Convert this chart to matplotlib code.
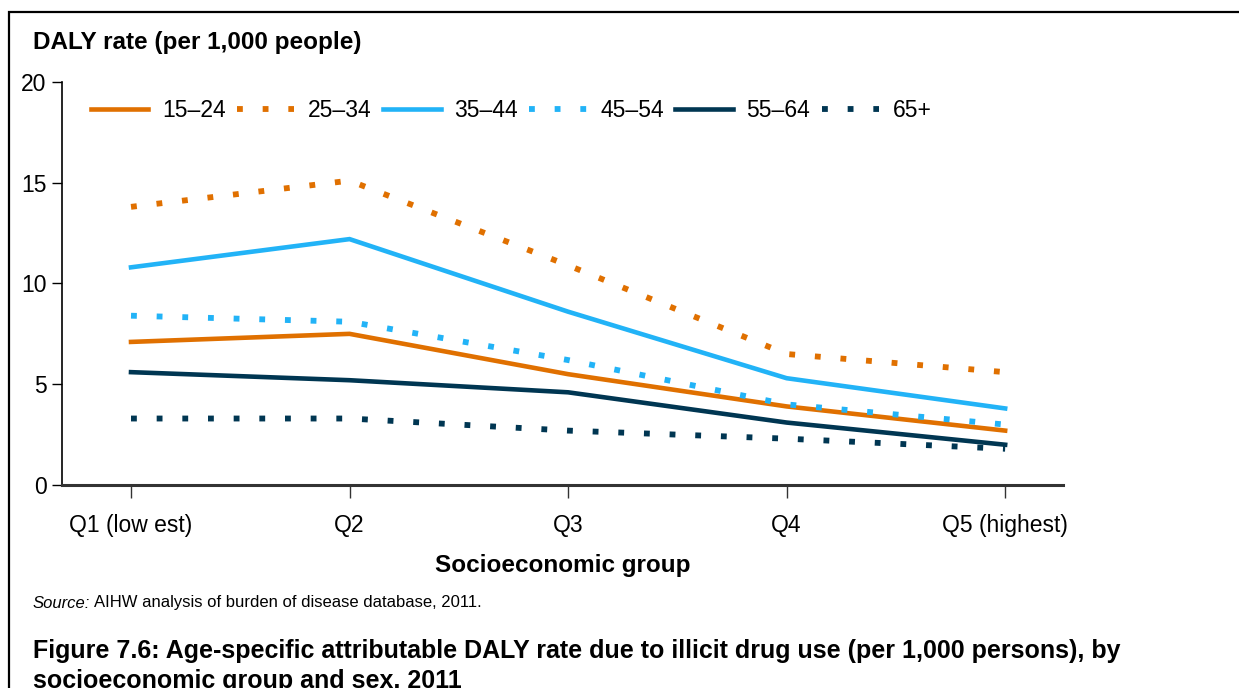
import numpy as np
import matplotlib
matplotlib.use("Agg")
import matplotlib.pyplot as plt
from matplotlib.patches import Rectangle

plt.rcParams['font.family'] = ['Liberation Sans', 'DejaVu Sans']

# Data
groups = ["Q1 (low est)", "Q2", "Q3", "Q4", "Q5 (highest)"]
ages = ["15–24", "25–34", "35–44", "45–54", "55–64", "65+"]
r15_24 = [7.1, 7.5, 5.5, 3.9, 2.7]
r25_34 = [13.8, 15.1, 10.9, 6.5, 5.6]
r35_44 = [10.8, 12.2, 8.6, 5.3, 3.8]
r45_54 = [8.4, 8.1, 6.2, 4.0, 3.0]
r55_64 = [5.6, 5.2, 4.6, 3.1, 2.0]
r65p = [3.3, 3.3, 2.7, 2.3, 1.8]

orange = "#e07000"
blue = "#22b3f7"
navy = "#003652"

series = [r15_24, r25_34, r35_44, r45_54, r55_64, r65p]
colors = [orange, orange, blue, blue, navy, navy]
dotted = [False, True, False, True, False, True]

fig = plt.figure(figsize=(12.39, 6.88), dpi=100)
ax = fig.add_axes([0.05, 0.295, 0.808, 0.586])

x = np.arange(len(groups))
for vals, lab, c, d in zip(series, ages, colors, dotted):
    if d:
        ax.plot(x, vals, color=c, lw=4.2, label=lab, linestyle=(0, (1.0, 3.4)),
                dash_capstyle='butt')
    else:
        ax.plot(x, vals, color=c, lw=3.3, label=lab, solid_joinstyle='miter')

ax.set_xlim(-0.316, 4.265)
ax.set_ylim(0, 20)
ax.set_yticks([0, 5, 10, 15, 20])
ax.set_xticks(x)
ax.set_xticklabels(groups)
ax.tick_params(axis='both', labelsize=16.5, colors='black')
ax.tick_params(axis='x', length=9, width=1, pad=12, color='#333333')
ax.tick_params(axis='y', length=7, width=1, pad=4)
for s in ['top', 'right']:
    ax.spines[s].set_visible(False)
ax.spines['left'].set_linewidth(1.2)
ax.spines['bottom'].set_linewidth(2.2)
ax.spines['bottom'].set_color('#333333')

ax.set_xlabel("Socioeconomic group", fontsize=17.5, fontweight='bold', labelpad=12)

leg = ax.legend(ncol=6, loc='center left', bbox_to_anchor=(0.029, 0.93),
                frameon=False, fontsize=16.5, handlelength=2.5,
                handletextpad=0.6, columnspacing=0.5, borderaxespad=0,
                borderpad=0)

fig.text(33 / 1239, 1 - 42 / 688, "DALY rate (per 1,000 people)", fontsize=17.5,
         fontweight='bold', va='center', ha='left')
src = fig.text(33 / 1239, 1 - 603 / 688, "Source:", fontsize=12, style='italic',
               va='center', ha='left')
r = fig.canvas.get_renderer()
bb = src.get_window_extent(renderer=r)
fig.text((bb.x1 + 4) / 1239, 1 - 603 / 688,
         "AIHW analysis of burden of disease database, 2011.",
         fontsize=12, va='center', ha='left')
fig.text(33 / 1239, 1 - 651 / 688,
         "Figure 7.6: Age-specific attributable DALY rate due to illicit drug use (per 1,000 persons), by",
         fontsize=18, fontweight='bold', va='center', ha='left')
fig.text(33 / 1239, 1 - 681 / 688, "socioeconomic group and sex, 2011",
         fontsize=18, fontweight='bold', va='center', ha='left')

# outer frame (runs off the right and bottom edges)
fig.patches.append(Rectangle((9 / 1239, -0.05), 1.1, 1 - 12 / 688 + 0.05,
                             transform=fig.transFigure, fill=False,
                             edgecolor='black', lw=1.6))

fig.savefig("out.png", dpi=100)
